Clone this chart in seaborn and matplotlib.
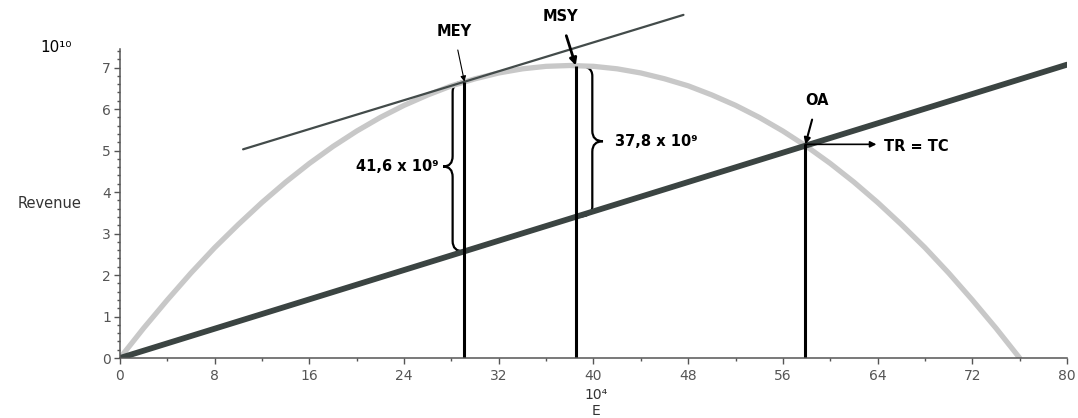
import numpy as np
import seaborn as sns
import matplotlib.pyplot as plt
from matplotlib.path import Path
from matplotlib.patches import PathPatch
from matplotlib.ticker import MultipleLocator

# effort E (x 10^4) and total revenue TR (x 10^10)
effort = [0, 2, 4, 6, 8, 10, 12, 14, 16, 18, 20, 22, 24, 26, 28, 30, 32, 34, 36, 38,
          40, 42, 44, 46, 48, 50, 52, 54, 56, 58, 60, 62, 64, 66, 68, 70, 72, 74, 76]
revenue = [0.00, 0.72, 1.40, 2.05, 2.66, 3.22, 3.75, 4.24, 4.69, 5.10, 5.47, 5.80, 6.09,
           6.34, 6.56, 6.73, 6.87, 6.97, 7.03, 7.05, 7.03, 6.97, 6.87, 6.73, 6.56, 6.34,
           6.09, 5.80, 5.47, 5.10, 4.69, 4.24, 3.75, 3.22, 2.66, 2.05, 1.40, 0.72, 0.00]

# total cost TC line
cost_e = [0, 80]
cost_tc = [0.0, 7.07]

# tangent at MEY
tang_e = [10.4, 47.6]
tang_y = [5.03, 8.27]

# reference points: (E, TR, TC)
mey = (29.1, 6.66, 2.57)
msy = (38.5, 7.05, 3.40)
oa = (57.9, 5.15, 5.15)

sns.set_style("ticks")
plt.rcParams['font.family'] = ['DejaVu Sans']

fig = plt.figure(figsize=(10.78, 4.18), dpi=100)
ax = fig.add_axes([0.1113, 0.1435, 0.8785, 0.7395])

sns.lineplot(x=effort, y=revenue, ax=ax, color='#c8c8c8', linewidth=3.8)
sns.lineplot(x=cost_e, y=cost_tc, ax=ax, color='#3b4442', linewidth=4.2)
sns.lineplot(x=tang_e, y=tang_y, ax=ax, color='#434b4a', linewidth=1.6)
ax.lines[-1].set_clip_on(False)

for e, top, _ in (mey, msy, oa):
    ax.plot([e, e], [0, top], color='black', linewidth=2.2, solid_capstyle='butt')


def brace(x_end, x_body, x_tip, y0, y1, r=0.25):
    ym = (y0 + y1) / 2
    verts = [(x_end, y0), (x_body, y0), (x_body, y0 + r),
             (x_body, ym - r), (x_body, ym), (x_tip, ym),
             (x_body, ym), (x_body, ym + r),
             (x_body, y1 - r), (x_body, y1), (x_end, y1)]
    codes = [Path.MOVETO, Path.CURVE3, Path.CURVE3,
             Path.LINETO, Path.CURVE3, Path.CURVE3,
             Path.CURVE3, Path.CURVE3,
             Path.LINETO, Path.CURVE3, Path.CURVE3]
    ax.add_patch(PathPatch(Path(verts, codes), fill=False, edgecolor='black', linewidth=1.6))
    return ym


ym1 = brace(mey[0] - 0.1, mey[0] - 1.0, mey[0] - 1.8, mey[2], mey[1])
ym2 = brace(msy[0] + 0.1, msy[0] + 1.4, msy[0] + 2.3, msy[2], msy[1])

bold = dict(fontsize=10.5, fontweight='bold', color='black')
ax.text(mey[0] - 2.2, ym1, "41,6 x 10⁹", ha='right', va='center', **bold)
ax.text(msy[0] + 3.3, ym2, "37,8 x 10⁹", ha='left', va='center', **bold)

ax.annotate("MEY", xy=(mey[0], mey[1]), xytext=(28.2, 7.88), ha='center', va='center',
            annotation_clip=False, **bold,
            arrowprops=dict(arrowstyle='-|>', color='black', lw=0.8, mutation_scale=8,
                            shrinkA=6, shrinkB=0))
ax.annotate("MSY", xy=(msy[0], msy[1]), xytext=(37.2, 8.22), ha='center', va='center',
            annotation_clip=False, **bold,
            arrowprops=dict(arrowstyle='-|>', color='black', lw=2.0, mutation_scale=10,
                            shrinkA=6, shrinkB=0))
ax.annotate("OA", xy=(oa[0], oa[1]), xytext=(58.9, 6.2), ha='center', va='center',
            **bold,
            arrowprops=dict(arrowstyle='-|>', color='black', lw=1.5, mutation_scale=9,
                            shrinkA=6, shrinkB=0))
ax.annotate("", xy=(63.9, oa[1]), xytext=(oa[0], oa[1]),
            arrowprops=dict(arrowstyle='-|>', color='black', lw=1.2, mutation_scale=9,
                            shrinkA=0, shrinkB=0))
ax.text(64.5, oa[1] - 0.05, "TR = TC", ha='left', va='center', **bold)

ax.set_xlim(0, 80)
ax.set_ylim(0, 7.45)
ax.xaxis.set_major_locator(MultipleLocator(8))
ax.xaxis.set_minor_locator(MultipleLocator(4))
ax.yaxis.set_major_locator(MultipleLocator(1))
ax.yaxis.set_minor_locator(MultipleLocator(0.2))
ax.tick_params(axis='both', which='both', colors='#555555', labelsize=10, width=1)
ax.tick_params(axis='x', which='major', length=4, pad=4)
ax.tick_params(axis='x', which='minor', length=2.5)
ax.tick_params(axis='y', which='major', length=4.5, pad=2)
ax.tick_params(axis='y', which='minor', length=2.5)
sns.despine(ax=ax)
for s in ('left', 'bottom'):
    ax.spines[s].set_color('#555555')
    ax.spines[s].set_linewidth(1.1)

fig.text(50 / 1078, 1 - 203 / 418, "Revenue", ha='center', va='center', fontsize=10.5,
         color='#333333')
fig.text(56 / 1078, 1 - 47 / 418, "10¹⁰", ha='center', va='center', fontsize=11,
         color='black')
fig.text(596 / 1078, 1 - 395 / 418, "10⁴", ha='center', va='center', fontsize=10,
         color='#333333')
fig.text(596 / 1078, 1 - 411 / 418, "E", ha='center', va='center', fontsize=10,
         color='#333333')

fig.savefig("out.png", dpi=100)
